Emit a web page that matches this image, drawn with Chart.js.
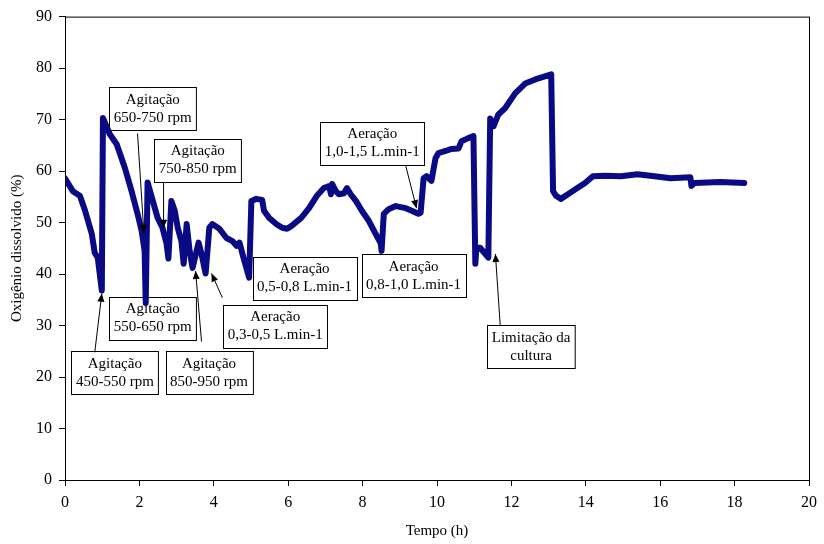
<!DOCTYPE html>
<html>
<head>
<meta charset="utf-8">
<script src="https://cdn.jsdelivr.net/npm/chart.js@4.4.0/dist/chart.umd.min.js"></script>
<style>
  body { margin: 0; background: #fff; }
</style>
</head>
<body>
<canvas id="grafico" width="824" height="544"></canvas>
<script>
// Tempo (h) e oxigênio dissolvido (%)
const tempo = [0, 0.21, 0.40, 0.54, 0.72, 0.80, 0.88, 0.99, 1.02, 1.20, 1.39, 1.61, 1.79, 1.95, 2.06, 2.14, 2.17, 2.22,
  2.36, 2.49, 2.62, 2.73, 2.78, 2.86, 2.95, 3.03, 3.13, 3.19, 3.27, 3.35, 3.43, 3.59, 3.67, 3.78, 3.88, 3.96,
  4.15, 4.34, 4.50, 4.61, 4.69, 4.82, 4.95, 5.01, 5.14, 5.30, 5.35, 5.49, 5.68, 5.84, 5.97, 6.10, 6.35, 6.56,
  6.77, 6.96, 7.10, 7.15, 7.18, 7.28, 7.36, 7.50, 7.58, 7.68, 7.82, 7.98, 8.17, 8.35, 8.49, 8.51, 8.57, 8.70,
  8.89, 9.16, 9.32, 9.50, 9.56, 9.64, 9.72, 9.85, 9.96, 10.04, 10.23, 10.39, 10.58, 10.66, 10.84, 10.98, 11.03,
  11.06, 11.16, 11.30, 11.38, 11.43, 11.52, 11.65, 11.83, 12.10, 12.37, 12.64, 12.90, 13.07, 13.12, 13.20, 13.33,
  13.52, 13.73, 13.98, 14.19, 14.51, 14.94, 15.39, 15.85, 16.28, 16.81, 16.84, 16.92, 17.62, 18.26];
const oxigenio = [58.6, 56.1, 55.2, 52.3, 47.8, 44.1, 43.2, 36.8, 70.3, 67.2, 65.2, 60.6, 56.1, 51.7, 48.4, 44.5, 34.4, 57.8,
  54.2, 50.9, 49.0, 45.9, 43.0, 54.2, 52.3, 49.0, 46.4, 42.0, 49.7, 44.5, 41.2, 46.1, 43.9, 40.1, 49.0, 49.7,
  48.8, 47.0, 46.4, 45.5, 46.1, 42.6, 39.3, 54.2, 54.6, 54.4, 52.3, 50.9, 49.7, 49.0, 48.8, 49.4, 50.9, 52.8,
  55.2, 56.7, 57.1, 55.5, 57.5, 56.1, 55.5, 55.7, 56.7, 55.5, 54.2, 52.3, 50.3, 47.8, 45.9, 44.5, 51.7, 52.6,
  53.2, 52.8, 52.3, 51.7, 51.9, 58.6, 59.0, 58.1, 62.5, 63.5, 63.9, 64.3, 64.4, 65.8, 66.4, 66.8, 42.0,
  45.1, 45.1, 43.9, 43.2, 70.2, 68.7, 71.0, 72.2, 75.1, 77.0, 77.8, 78.4, 78.8, 56.1, 55.2, 54.6,
  55.5, 56.5, 57.7, 59.0, 59.1, 59.0, 59.4, 59.0, 58.6, 58.8, 57.1, 57.7, 57.9, 57.7];

const ticksX = [0, 2, 4, 6, 8, 10, 12, 14, 16, 18, 20];
const ticksY = [0, 10, 20, 30, 40, 50, 60, 70, 80, 90];

// Textos das caixas de anotação
const rotulos = [
  ["Agitação", "450-550 rpm"],
  ["Agitação", "650-750 rpm"],
  ["Agitação", "750-850 rpm"],
  ["Agitação", "550-650 rpm"],
  ["Agitação", "850-950 rpm"],
  ["Aeração", "0,3-0,5 L.min-1"],
  ["Aeração", "0,5-0,8 L.min-1"],
  ["Aeração", "0,8-1,0 L.min-1"],
  ["Aeração", "1,0-1,5 L.min-1"],
  ["Limitação da", "cultura"]
];

// posição das caixas (centro, em unidades dos eixos) e das setas (origem -> ponta)
const posicoes = [
  { cx: 1.34, cy: 20.8, seta: [0.80, 24.8, 0.99, 36.2] },
  { cx: 2.36, cy: 72.1, seta: [1.95, 67.3, 2.12, 48.0] },
  { cx: 3.57, cy: 62.1, seta: [2.65, 57.7, 2.65, 49.0] },
  { cx: 2.36, cy: 31.4, seta: null },
  { cx: 3.87, cy: 20.8, seta: [3.67, 26.9, 3.51, 40.6] },
  { cx: 5.65, cy: 29.9, seta: [4.23, 35.4, 3.94, 40.1] },
  { cx: 6.44, cy: 39.2, seta: null },
  { cx: 9.37, cy: 39.7, seta: null },
  { cx: 8.26, cy: 65.4, seta: [9.16, 61.0, 9.45, 52.8] },
  { cx: 12.53, cy: 25.9, seta: [11.70, 30.0, 11.57, 43.9] }
];

const fonteSerif = "Liberation Serif";

// moldura em volta da área do gráfico
const moldura = {
  id: "moldura",
  afterDraw(chart) {
    const { ctx, chartArea: a } = chart;
    ctx.save();
    ctx.strokeStyle = "#000";
    ctx.lineWidth = 1;
    ctx.strokeRect(a.left + 0.5, a.top + 0.5, a.right - a.left, a.bottom - a.top);
    ctx.restore();
  }
};

function desenhaSeta(ctx, x1, y1, x2, y2) {
  ctx.beginPath();
  ctx.moveTo(x1, y1);
  ctx.lineTo(x2, y2);
  ctx.stroke();
  const ang = Math.atan2(y2 - y1, x2 - x1);
  const c = 8, l = 3.5;
  ctx.beginPath();
  ctx.moveTo(x2, y2);
  ctx.lineTo(x2 - c * Math.cos(ang) + l * Math.sin(ang), y2 - c * Math.sin(ang) - l * Math.cos(ang));
  ctx.lineTo(x2 - c * Math.cos(ang) - l * Math.sin(ang), y2 - c * Math.sin(ang) + l * Math.cos(ang));
  ctx.closePath();
  ctx.fill();
}

const anotacoes = {
  id: "anotacoes",
  beforeDatasetsDraw(chart) {
    const { ctx, scales: { x, y } } = chart;
    ctx.save();
    ctx.font = "15px '" + fonteSerif + "'";
    ctx.textAlign = "center";
    ctx.textBaseline = "middle";
    rotulos.forEach((linhas, i) => {
      const p = posicoes[i];
      const cx = x.getPixelForValue(p.cx);
      const cy = y.getPixelForValue(p.cy);
      const w = Math.max(...linhas.map(t => ctx.measureText(t).width)) + 9;
      const h = 43;
      const bx = Math.round(cx - w / 2) + 0.5, by = Math.round(cy - h / 2) + 0.5;
      ctx.fillStyle = "#fff";
      ctx.fillRect(bx, by, w, h);
      ctx.strokeStyle = "#000";
      ctx.lineWidth = 1;
      ctx.strokeRect(bx, by, w, h);
      ctx.fillStyle = "#000";
      ctx.fillText(linhas[0], cx, cy - 9);
      ctx.fillText(linhas[1], cx, cy + 9);
    });
    ctx.restore();
  },
  afterDatasetsDraw(chart) {
    const { ctx, scales: { x, y } } = chart;
    ctx.save();
    ctx.strokeStyle = "#000";
    ctx.fillStyle = "#000";
    ctx.lineWidth = 1;
    posicoes.forEach(p => {
      if (!p.seta) return;
      const s = p.seta;
      desenhaSeta(ctx, x.getPixelForValue(s[0]), y.getPixelForValue(s[1]),
        x.getPixelForValue(s[2]), y.getPixelForValue(s[3]));
    });
    ctx.restore();
  }
};

const pontos = tempo.map((t, i) => ({ x: t, y: oxigenio[i] }));

const fonteEixo = { family: fonteSerif, size: 16 };
const fonteTitulo = { family: fonteSerif, size: 15 };

new Chart(document.getElementById("grafico"), {
  type: "line",
  data: {
    datasets: [{
      label: "Oxigênio dissolvido",
      data: pontos,
      borderColor: "#0a0a84",
      borderWidth: 6,
      pointRadius: 0,
      tension: 0,
      borderJoinStyle: "round",
      borderCapStyle: "round"
    }]
  },
  options: {
    responsive: false,
    animation: false,
    layout: { autoPadding: false, padding: { top: 15, right: 12, left: 0, bottom: 0 } },
    plugins: {
      legend: { display: false },
      tooltip: { enabled: false }
    },
    scales: {
      x: {
        type: "linear",
        min: 0,
        max: 20,
        afterBuildTicks: s => { s.ticks = ticksX.map(v => ({ value: v })); },
        ticks: { color: "#000", font: fonteEixo, padding: 7, maxRotation: 0 },
        grid: { drawOnChartArea: false, drawTicks: true, tickLength: 6, color: "#000" },
        border: { color: "#000", width: 1 },
        title: { display: true, text: "Tempo (h)", color: "#000", font: fonteTitulo, padding: { top: 0, bottom: 4 } },
        afterFit: s => { s.height = 64; }
      },
      y: {
        min: 0,
        max: 90,
        afterBuildTicks: s => { s.ticks = ticksY.map(v => ({ value: v })); },
        ticks: { color: "#000", font: fonteEixo, padding: 7 },
        grid: { drawOnChartArea: false, drawTicks: true, tickLength: 6, color: "#000" },
        border: { color: "#000", width: 1 },
        title: { display: true, text: "Oxigênio dissolvido (%)", color: "#000", font: fonteTitulo, padding: { top: 8, bottom: 0 } },
        afterFit: s => { s.width = 65; }
      }
    }
  },
  plugins: [anotacoes, moldura]
});
</script>
</body>
</html>
